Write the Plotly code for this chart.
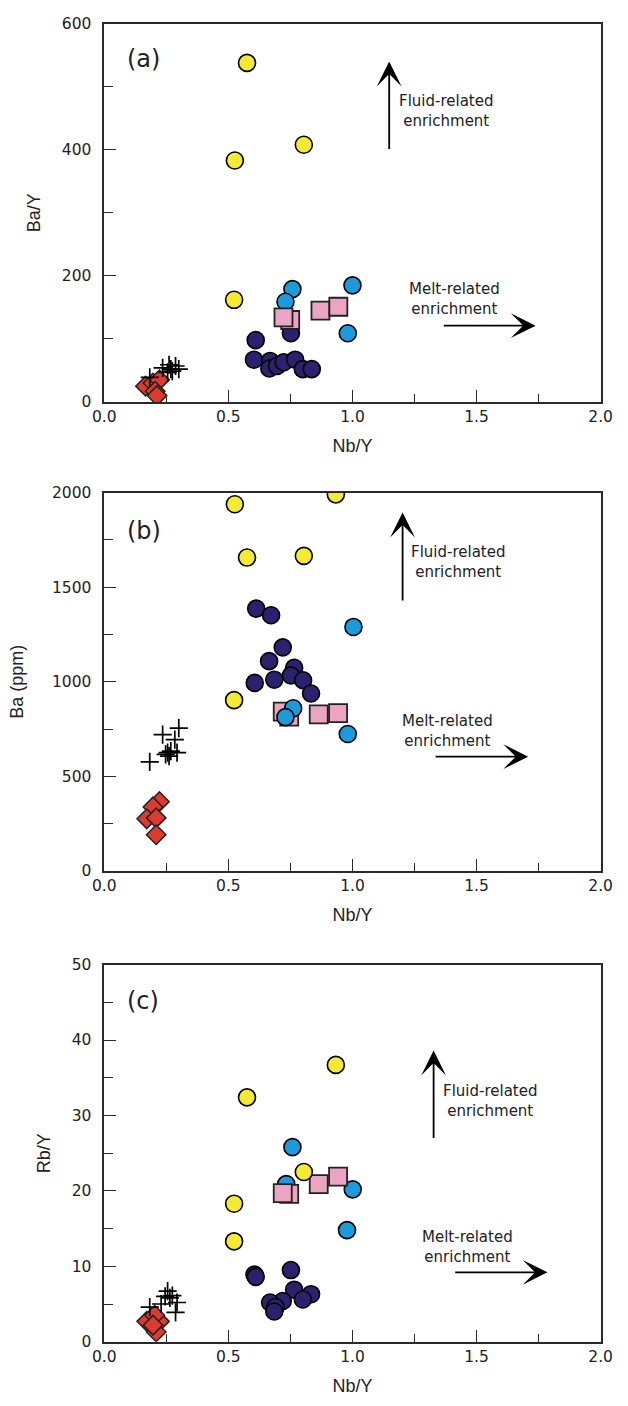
import plotly.graph_objects as go

# ---------------- data: Nb/Y against Ba/Y, Ba (ppm) and Rb/Y ----------------
# (a) Ba/Y
a_yellow_x = [0.575, 0.526, 0.804, 0.523]
a_yellow_y = [538, 383, 408, 162]
a_cyan_x = [0.758, 0.730, 1.000, 0.981]
a_cyan_y = [179, 159, 185, 109]
a_pink_x = [0.749, 0.722, 0.871, 0.943]
a_pink_y = [130, 134, 145, 151]
a_navy_x = [0.752, 0.610, 0.603, 0.668, 0.665, 0.696, 0.723, 0.769, 0.800, 0.836]
a_navy_y = [109, 98, 67, 65, 53, 57, 63, 67, 52, 52]
a_cross_x = [0.183, 0.235, 0.261, 0.287, 0.300, 0.274, 0.255, 0.268]
a_cross_y = [39, 54, 59, 57, 52, 49, 47, 52]
a_diam_x = [0.166, 0.196, 0.222, 0.205, 0.212]
a_diam_y = [25, 30, 35, 17, 10]

# (b) Ba (ppm)
b_yellow_x = [0.526, 0.933, 0.575, 0.804, 0.523]
b_yellow_y = [1939, 1991, 1657, 1666, 903]
b_cyan_x = [1.004, 0.761, 0.730, 0.981]
b_cyan_y = [1290, 860, 813, 724]
b_pink_x = [0.745, 0.719, 0.864, 0.942]
b_pink_y = [816, 842, 828, 834]
b_navy_x = [0.612, 0.672, 0.719, 0.664, 0.765, 0.752, 0.801, 0.685, 0.606, 0.833]
b_navy_y = [1387, 1352, 1182, 1109, 1074, 1034, 1008, 1011, 994, 938]
b_cross_x = [0.183, 0.235, 0.300, 0.284, 0.255, 0.268, 0.293, 0.261, 0.247]
b_cross_y = [576, 720, 755, 694, 625, 633, 625, 607, 616]
b_diam_x = [0.222, 0.196, 0.171, 0.209, 0.209]
b_diam_y = [366, 338, 275, 280, 191]

# (c) Rb/Y
c_yellow_x = [0.933, 0.575, 0.804, 0.523, 0.523]
c_yellow_y = [36.7, 32.4, 22.5, 18.3, 13.3]
c_cyan_x = [0.758, 0.733, 1.001, 0.978]
c_cyan_y = [25.8, 20.9, 20.2, 14.8]
c_pink_x = [0.745, 0.719, 0.864, 0.942]
c_pink_y = [19.6, 19.7, 20.9, 21.9]
c_navy_x = [0.605, 0.610, 0.752, 0.765, 0.833, 0.800, 0.719, 0.668, 0.690, 0.685]
c_navy_y = [8.9, 8.6, 9.5, 6.9, 6.3, 5.6, 5.4, 5.2, 4.6, 4.0]
c_cross_x = [0.183, 0.229, 0.245, 0.255, 0.264, 0.274, 0.293, 0.287]
c_cross_y = [4.6, 5.0, 6.0, 6.7, 5.8, 6.1, 5.2, 3.9]
c_diam_x = [0.171, 0.222, 0.203, 0.209, 0.196]
c_diam_y = [2.7, 2.7, 3.5, 1.3, 2.2]

y_titles = ["Ba/Y", "Ba (ppm)", "Rb/Y"]
panel_tags = ["(a)", "(b)", "(c)"]
x_title = "Nb/Y"

# ---------------- styling ----------------
YELLOW = "#F5EA32"
CYAN = "#1C9BDC"
NAVY = "#2B216F"
PINK = "#EBA5C3"
RED = "#DE3B30"
INK = "#222222"
TICK_FONT = dict(family="DejaVu Sans", size=15.5, color=INK)
NOTE_FONT = dict(family="DejaVu Sans", size=15, color=INK)
TITLE_FONT = dict(family="Liberation Sans, Arial", size=18, color=INK)

def circle(color):
    return dict(symbol="circle", size=17, color=color, line=dict(color="black", width=1.6))

square = dict(symbol="square", size=18, color=PINK, line=dict(color="#222", width=1.8))
diamond = dict(symbol="diamond", size=15, color=RED, line=dict(color="#222", width=1.5))
cross = dict(symbol="cross-thin", size=13, color="black", line=dict(color="black", width=1.7))

panels = [
    dict(yellow=(a_yellow_x, a_yellow_y), cyan=(a_cyan_x, a_cyan_y), pink=(a_pink_x, a_pink_y),
         navy=(a_navy_x, a_navy_y), cross=(a_cross_x, a_cross_y), diam=(a_diam_x, a_diam_y),
         order=["navy", "cyan", "pink", "yellow", "diam", "cross"]),
    dict(yellow=(b_yellow_x, b_yellow_y), cyan=(b_cyan_x, b_cyan_y), pink=(b_pink_x, b_pink_y),
         navy=(b_navy_x, b_navy_y), cross=(b_cross_x, b_cross_y), diam=(b_diam_x, b_diam_y),
         order=["navy", "pink", "cyan", "yellow", "diam", "cross"]),
    dict(yellow=(c_yellow_x, c_yellow_y), cyan=(c_cyan_x, c_cyan_y), pink=(c_pink_x, c_pink_y),
         navy=(c_navy_x, c_navy_y), cross=(c_cross_x, c_cross_y), diam=(c_diam_x, c_diam_y),
         order=["navy", "cyan", "pink", "yellow", "diam", "cross"]),
]
markers = dict(yellow=circle(YELLOW), cyan=circle(CYAN), navy=circle(NAVY),
               pink=square, diam=diamond, cross=cross)

y_ranges = [(0, 600, 200, 100), (0, 2000, 500, 250), (0, 50, 10, 5)]
y_title_standoff = [16, 24, 16]

W, H = 628, 1406
x_dom = [96 / W, 612 / W]
y_px = [(15, 398), (490, 873), (968, 1350)]
y_doms = [[1 - b / H, 1 - t / H] for t, b in y_px]

fig = go.Figure()
for i, p in enumerate(panels):
    xa = "x" if i == 0 else f"x{i + 1}"
    ya = "y" if i == 0 else f"y{i + 1}"
    for key in p["order"]:
        xs, ys = p[key]
        fig.add_trace(go.Scatter(x=xs, y=ys, mode="markers", marker=markers[key],
                                 xaxis=xa, yaxis=ya, showlegend=False, hoverinfo="skip"))

axis_common = dict(showline=True, linecolor="#2a2a2a", linewidth=1.7, mirror=True,
                   showgrid=False, zeroline=False, ticks="inside", ticklen=12,
                   tickwidth=1.3, tickcolor="#2a2a2a", tickfont=TICK_FONT)

layout = dict(width=W, height=H, margin=dict(l=0, r=0, t=0, b=0),
              plot_bgcolor="white", paper_bgcolor="white", showlegend=False)

for i in range(3):
    sx = "" if i == 0 else str(i + 1)
    lo, hi, major, minor = y_ranges[i]
    layout["xaxis" + sx] = dict(axis_common, domain=x_dom, range=[0, 2], dtick=0.5, tick0=0,
                                tickformat=".1f", anchor="y" + sx,
                                minor=dict(dtick=0.25, ticks="inside", ticklen=8,
                                           tickcolor="#2a2a2a", tickwidth=1.3),
                                title=dict(text=x_title, font=TITLE_FONT, standoff=14))
    layout["yaxis" + sx] = dict(axis_common, domain=y_doms[i], range=[lo, hi], dtick=major,
                                tick0=0, anchor="x" + sx, ticklabelstandoff=8,
                                minor=dict(dtick=minor, ticks="inside", ticklen=9,
                                           tickcolor="#2a2a2a", tickwidth=1.3),
                                title=dict(text=y_titles[i], font=TITLE_FONT,
                                           standoff=y_title_standoff[i]))

fig.update_layout(**layout)

# enrichment arrows and labels: (tail, head, label position) in data units
arrow_sets = [
    dict(fluid=((1.148, 399), (1.148, 540), (1.375, 462)),
         melt=((1.362, 121), (1.738, 121), (1.41, 163))),
    dict(fluid=((1.202, 1422), (1.202, 1895), (1.426, 1632)),
         melt=((1.329, 604), (1.708, 604), (1.382, 742))),
    dict(fluid=((1.327, 26.8), (1.327, 38.6), (1.553, 31.9)),
         melt=((1.408, 9.2), (1.786, 9.2), (1.462, 12.5))),
]
labels = dict(fluid="Fluid-related<br>enrichment", melt="Melt-related<br>enrichment")
tag_pos = [(0.079, 0.907), (0.079, 0.900), (0.077, 0.903)]

for i, s in enumerate(arrow_sets):
    xr = "x" if i == 0 else f"x{i + 1}"
    yr = "y" if i == 0 else f"y{i + 1}"
    for kind in ("fluid", "melt"):
        tail, head, lab = s[kind]
        fig.add_annotation(x=head[0], y=head[1], ax=tail[0], ay=tail[1], xref=xr, yref=yr,
                           axref=xr, ayref=yr, text="", showarrow=True, arrowhead=3,
                           arrowsize=2.3, arrowwidth=1.8, arrowcolor="black", standoff=0)
        fig.add_annotation(x=lab[0], y=lab[1], xref=xr, yref=yr, text=labels[kind],
                           showarrow=False, font=NOTE_FONT, align="center",
                           xanchor="center", yanchor="middle")
    fig.add_annotation(x=tag_pos[i][0], y=tag_pos[i][1], xref=xr + " domain",
                       yref=yr + " domain", text=panel_tags[i], showarrow=False,
                       font=dict(family="DejaVu Sans", size=24, color=INK),
                       xanchor="center", yanchor="middle")

fig.write_html("out.html")
